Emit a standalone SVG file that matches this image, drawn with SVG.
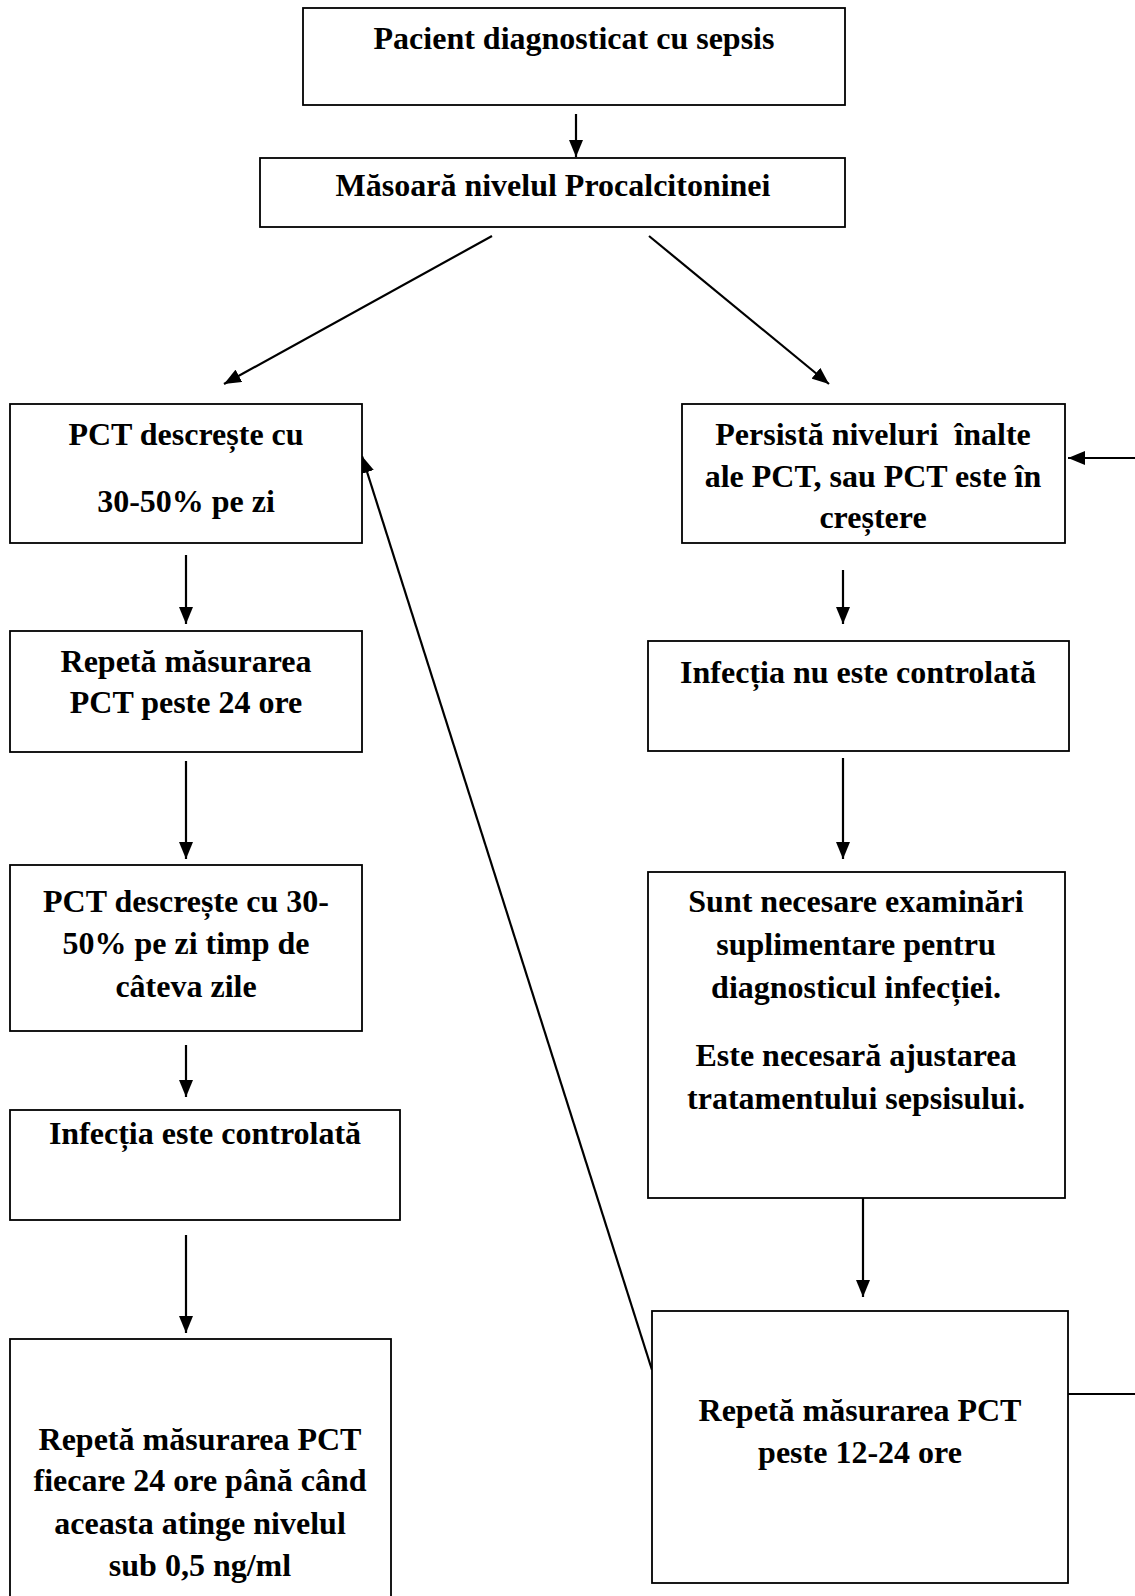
<svg xmlns="http://www.w3.org/2000/svg" width="1135" height="1596" viewBox="0 0 1135 1596">
<defs>
<style>
.box{fill:#fff;stroke:#000;stroke-width:1.8}
.t{font-family:"Liberation Serif","Times New Roman",serif;font-weight:bold;font-size:32px;fill:#000;text-anchor:middle}
.c{stroke:#000;stroke-width:2.2;fill:none}
.a{marker-end:url(#ah)}
</style>
<marker id="ah" viewBox="0 0 17 14" refX="17" refY="7" markerWidth="17" markerHeight="14" markerUnits="userSpaceOnUse" orient="auto">
<path d="M0,0 L17,7 L0,14 z" fill="#000"/>
</marker>
</defs>
<rect width="1135" height="1596" fill="#fff"/>
<g id="connectors">
<line class="c a" x1="576" y1="114" x2="576" y2="157"/>
<line class="c a" x1="492" y1="236" x2="224" y2="384"/>
<line class="c a" x1="649" y1="236" x2="829" y2="384"/>
<line class="c a" x1="186" y1="555" x2="186" y2="624"/>
<line class="c a" x1="186" y1="761" x2="186" y2="859"/>
<line class="c a" x1="186" y1="1045" x2="186" y2="1097"/>
<line class="c a" x1="186" y1="1235" x2="186" y2="1333"/>
<line class="c a" x1="843" y1="570" x2="843" y2="624"/>
<line class="c a" x1="843" y1="758" x2="843" y2="859"/>
<line class="c a" x1="863" y1="1198" x2="863" y2="1297"/>
<line class="c a" x1="652" y1="1370" x2="362" y2="456"/>
<line class="c a" x1="1135" y1="458" x2="1068" y2="458"/>
<line class="c" x1="1068" y1="1394" x2="1135" y2="1394"/>
</g>
<g id="n1"><rect class="box" x="303" y="8" width="542" height="97"/>
<text class="t" x="574" y="49">Pacient diagnosticat cu sepsis</text></g>
<g id="n2"><rect class="box" x="260" y="158" width="585" height="69"/>
<text class="t" x="553" y="196">Măsoară nivelul Procalcitoninei</text></g>
<g id="n3"><rect class="box" x="10" y="404" width="352" height="139"/>
<text class="t" x="186" y="445">PCT descrește cu</text>
<text class="t" x="186" y="512">30-50% pe zi</text></g>
<g id="n4"><rect class="box" x="682" y="404" width="383" height="139"/>
<text class="t" x="873" y="445" xml:space="preserve">Persistă niveluri  înalte</text>
<text class="t" x="873" y="487">ale PCT, sau PCT este în</text>
<text class="t" x="873" y="528">creștere</text></g>
<g id="n5"><rect class="box" x="10" y="631" width="352" height="121"/>
<text class="t" x="186" y="672">Repetă măsurarea</text>
<text class="t" x="186" y="713">PCT peste 24 ore</text></g>
<g id="n6"><rect class="box" x="10" y="865" width="352" height="166"/>
<text class="t" x="186" y="912">PCT descrește cu 30-</text>
<text class="t" x="186" y="954">50% pe zi timp de</text>
<text class="t" x="186" y="997">câteva zile</text></g>
<g id="n7"><rect class="box" x="10" y="1110" width="390" height="110"/>
<text class="t" x="205" y="1144">Infecția este controlată</text></g>
<g id="n8"><rect class="box" x="10" y="1339" width="381" height="270"/>
<text class="t" x="200" y="1450">Repetă măsurarea PCT</text>
<text class="t" x="200" y="1491">fiecare 24 ore până când</text>
<text class="t" x="200" y="1534">aceasta atinge nivelul</text>
<text class="t" x="200" y="1576">sub 0,5 ng/ml</text></g>
<g id="n9"><rect class="box" x="648" y="641" width="421" height="110"/>
<text class="t" x="858" y="683">Infecția nu este controlată</text></g>
<g id="n10"><rect class="box" x="648" y="872" width="417" height="326"/>
<text class="t" x="856" y="912">Sunt necesare examinări</text>
<text class="t" x="856" y="955">suplimentare pentru</text>
<text class="t" x="856" y="998">diagnosticul infecției.</text>
<text class="t" x="856" y="1066">Este necesară ajustarea</text>
<text class="t" x="856" y="1109">tratamentului sepsisului.</text></g>
<g id="n11"><rect class="box" x="652" y="1311" width="416" height="272"/>
<text class="t" x="860" y="1421">Repetă măsurarea PCT</text>
<text class="t" x="860" y="1463">peste 12-24 ore</text></g>
</svg>
